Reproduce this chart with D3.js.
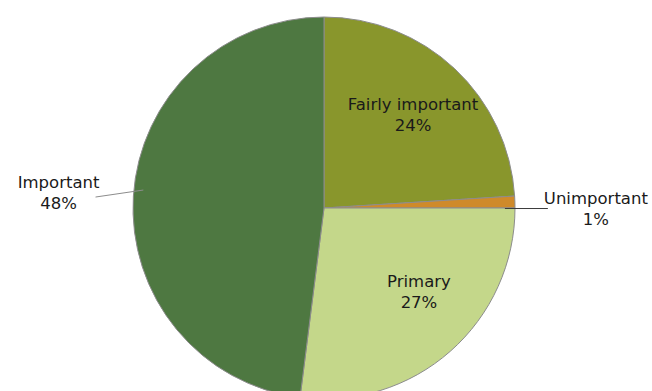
<!DOCTYPE html>
<html>
<head>
<meta charset="utf-8">
<script src="https://cdn.jsdelivr.net/npm/d3@7"></script>
<style>
  html, body { margin: 0; padding: 0; background: #fff; }
  svg { display: block; }
  text { font-family: "DejaVu Sans", sans-serif; font-size: 16.5px; fill: #1a1a1a; }
</style>
</head>
<body>
<svg id="chart" width="652" height="391"></svg>
<script>
// Share of respondents by rating, clockwise from 12 o'clock
const categories = ["Fairly important", "Unimportant", "Primary", "Important"];
const values = [24, 1, 27, 48];
const colors = ["#89962c", "#cf8a2a", "#c4d78a", "#4e7841"];
// Which slices put their label outside the pie with a leader line
const outside = [false, true, false, true];

const cx = 324, cy = 208, R = 191;

const svg = d3.select("#chart");
const g = svg.append("g").attr("transform", `translate(${cx},${cy})`);

const data = categories.map((c, i) => ({ name: c, value: values[i], color: colors[i], out: outside[i] }));
const total = d3.sum(values);

const pie = d3.pie().value(d => d.value).sort(null);
const arcs = pie(data);

const arc = d3.arc().innerRadius(0).outerRadius(R);
const labelArc = d3.arc().innerRadius(130).outerRadius(130);
const edgeArc = d3.arc().innerRadius(R - 10).outerRadius(R - 10);
const farArc = d3.arc().innerRadius(270).outerRadius(270);

g.selectAll("path.slice")
  .data(arcs)
  .enter().append("path")
  .attr("class", "slice")
  .attr("d", arc)
  .attr("fill", d => d.data.color)
  .attr("stroke", "#8c8c8c")
  .attr("stroke-width", 1);

const pct = d => Math.round(d.data.value / total * 100) + "%";

// Where each label block sits: inside labels on a ring, outside ones further out
function labelPos(d) {
  if (d.data.out) {
    const [x, y] = farArc.centroid(d);
    return x < 0 ? [x + 4, y] : [x + 2, y + 7];
  }
  const [x, y] = labelArc.centroid(d);
  // lower slice label sits a little higher and further right
  return y > 0 ? [x + 9, y - 16] : [x, y];
}

// Leader lines for the outside labels
arcs.filter(d => d.data.out).forEach(d => {
  const [x1] = edgeArc.centroid(d);
  const [lx, ly] = labelPos(d);
  const left = lx < 0;
  const x2 = left ? lx + 37 : lx - 48;
  const y2 = left ? ly + 6 : ly + 2;
  g.append("line")
    .attr("x1", x1).attr("y1", left ? y2 - 7 : y2)
    .attr("x2", x2).attr("y2", y2)
    .attr("stroke", left ? "#8c8c8c" : "#3a3a3a")
    .attr("stroke-width", 1);
});

// Category name and percentage, two lines per slice
arcs.forEach(d => {
  const [x, y] = labelPos(d);
  const t = g.append("text")
    .attr("text-anchor", "middle")
    .attr("transform", `translate(${x},${y})`);
  t.append("tspan").attr("x", 0).attr("y", -3).text(d.data.name);
  t.append("tspan").attr("x", 0).attr("y", 18).text(pct(d));
});
</script>
</body>
</html>
